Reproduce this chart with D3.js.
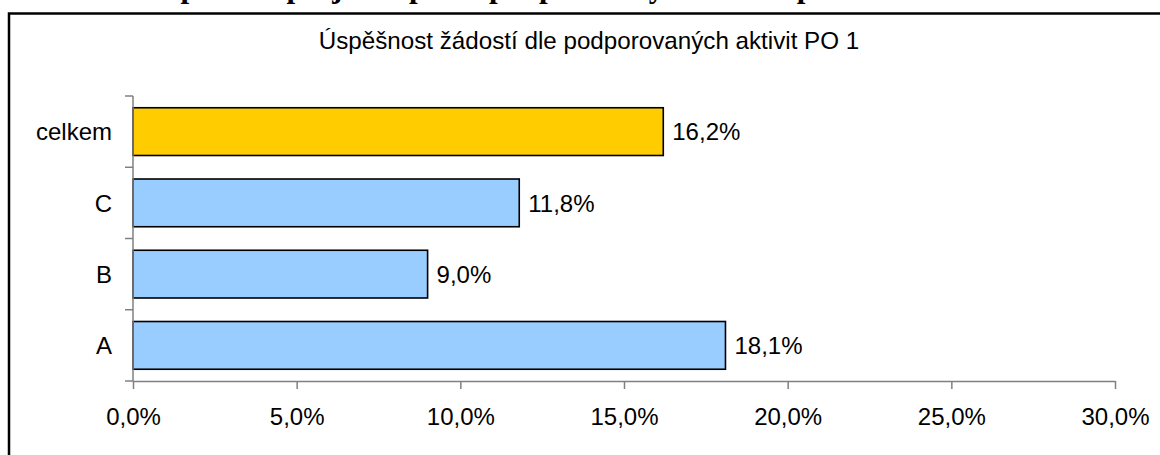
<!DOCTYPE html>
<html>
<head>
<meta charset="utf-8">
<script src="https://cdn.jsdelivr.net/npm/d3@7"></script>
<style>
  html, body { margin: 0; padding: 0; background: #fff; overflow: hidden; }
  svg { display: block; }
</style>
</head>
<body>
<svg id="chart" width="1160" height="455"></svg>
<script>
// ---- data ----
const categories = ["A", "B", "C", "celkem"];
const values = [0.181, 0.090, 0.118, 0.162];
const highlight = ["celkem"];
const xTicks = [0, 0.05, 0.10, 0.15, 0.20, 0.25, 0.30];
const chartTitle = "Úspěšnost žádostí dle podporovaných aktivit PO 1";
const pageHeading = "Úspěšnost projektů podle podporovaných aktivit pro PO 1";

// ---- layout ----
const svg = d3.select("#chart");
const font = "'Liberation Sans', Arial, sans-serif";
const fs = 24;
const plot = { left: 133, right: 1115, top: 96, bottom: 381 };

const locale = d3.formatLocale({ decimal: ",", thousands: " ", grouping: [3], currency: ["", " Kč"] });
const pct = locale.format(".1%");

const x = d3.scaleLinear().domain([0, 0.30]).range([plot.left, plot.right]);
const y = d3.scaleBand()
  .domain(categories.slice().reverse())
  .range([plot.top, plot.bottom])
  .paddingInner(0.33)
  .paddingOuter(0.165);

// cut-off page heading (only descenders visible, as in the reference)
svg.append("text")
  .attr("x", 146).attr("y", -3.5)
  .attr("font-family", "'Liberation Serif', 'Times New Roman', serif")
  .attr("font-weight", "bold")
  .attr("font-size", 31)
  .attr("fill", "#000")
  .text(pageHeading);

// frame
svg.append("path")
  .attr("d", "M9,470 L9,13.5 L1175,13.5")
  .attr("fill", "none").attr("stroke", "#000").attr("stroke-width", 2.5);

// chart title
svg.append("text")
  .attr("x", 589).attr("y", 49)
  .attr("text-anchor", "middle")
  .attr("font-family", font).attr("font-size", 24.2)
  .attr("fill", "#000")
  .text(chartTitle);

// bars
const data = categories.map((c, i) => ({ c, v: values[i] }));
svg.append("g").selectAll("rect").data(data).join("rect")
  .attr("x", x(0))
  .attr("y", d => y(d.c))
  .attr("width", d => x(d.v) - x(0))
  .attr("height", y.bandwidth())
  .attr("fill", d => highlight.includes(d.c) ? "#FFCC00" : "#99CCFF")
  .attr("stroke", "#000").attr("stroke-width", 1.6);

// value labels
svg.append("g").selectAll("text").data(data).join("text")
  .attr("x", d => x(d.v) + 9)
  .attr("y", d => y(d.c) + y.bandwidth() / 2)
  .attr("dy", "0.36em")
  .attr("font-family", font).attr("font-size", fs)
  .attr("fill", "#000")
  .text(d => pct(d.v));

// x axis
const axisColor = "#808080";
const xAxis = svg.append("g")
  .attr("transform", `translate(0,${plot.bottom})`)
  .call(d3.axisBottom(x).tickValues(xTicks).tickSize(8).tickSizeOuter(0).tickFormat(pct));
xAxis.select(".domain").attr("stroke", axisColor).attr("stroke-width", 1.5);
xAxis.selectAll(".tick line").attr("stroke", axisColor).attr("stroke-width", 1.5);
xAxis.selectAll(".tick text")
  .attr("font-family", font).attr("font-size", fs).attr("fill", "#000")
  .attr("y", 44).attr("dy", 0);

// y axis line + ticks at band boundaries
const gap = (y.step() - y.bandwidth()) / 2;
const bounds = y.domain().map(c => y(c) - gap).concat([y(y.domain()[y.domain().length - 1]) + y.bandwidth() + gap]);
const yg = svg.append("g");
yg.append("line")
  .attr("x1", x(0)).attr("x2", x(0))
  .attr("y1", bounds[0]).attr("y2", bounds[bounds.length - 1])
  .attr("stroke", axisColor).attr("stroke-width", 1.5);
yg.selectAll("line.tk").data(bounds).join("line")
  .attr("class", "tk")
  .attr("x1", x(0) - 8).attr("x2", x(0))
  .attr("y1", d => d).attr("y2", d => d)
  .attr("stroke", axisColor).attr("stroke-width", 1.5);

// category labels
yg.selectAll("text").data(y.domain()).join("text")
  .attr("x", 112)
  .attr("y", d => y(d) + y.bandwidth() / 2)
  .attr("dy", "0.36em")
  .attr("text-anchor", "end")
  .attr("font-family", font).attr("font-size", fs)
  .attr("fill", "#000")
  .text(d => d);
</script>
</body>
</html>
